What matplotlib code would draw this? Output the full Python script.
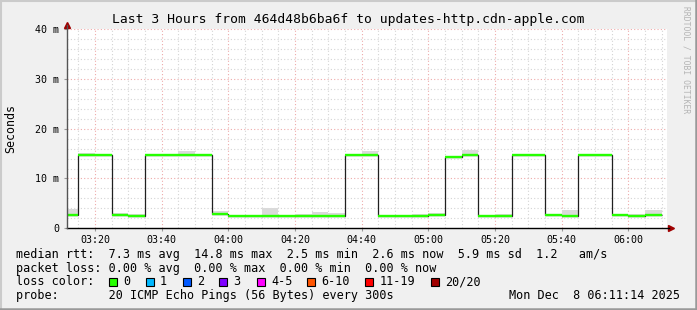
import matplotlib
matplotlib.use("Agg")
import matplotlib.pyplot as plt
from matplotlib.patches import Rectangle
import numpy as np

# --- data (times in minutes after midnight, rtt in ms) ---
step_start = 190          # first 5-minute step starts at 03:10
step_len = 5
median_ms = [2.6, 14.7, 14.7, 2.6, 2.5, 14.7, 14.7, 14.7, 14.7, 2.9,
             2.5, 2.5, 2.5, 2.5, 2.5, 2.5, 2.5, 14.7, 14.7, 2.5,
             2.5, 2.5, 2.6, 14.4, 14.8, 2.5, 2.5, 14.7, 14.7, 2.6,
             2.5, 14.7, 14.7, 2.6, 2.5, 2.6]
smoke_top_ms = [3.9, 15.1, 14.7, 3.1, 2.9, 14.7, 14.7, 15.5, 14.7, 3.5,
                2.7, 2.5, 4.0, 2.5, 2.9, 3.3, 3.1, 14.7, 15.5, 2.5,
                2.5, 2.9, 3.1, 14.5, 15.7, 2.5, 2.9, 14.7, 14.7, 2.6,
                3.7, 14.7, 14.7, 2.6, 2.9, 3.7]
x_ticks = ["03:20", "03:40", "04:00", "04:20", "04:40", "05:00", "05:20", "05:40", "06:00"]
y_ticks = ["0", "10 m", "20 m", "30 m", "40 m"]

title = "Last 3 Hours from 464d48b6ba6f to updates-http.cdn-apple.com"
rtt_line = "median rtt:  7.3 ms avg  14.8 ms max  2.5 ms min  2.6 ms now  5.9 ms sd  1.2   am/s"
loss_line = "packet loss: 0.00 % avg  0.00 % max  0.00 % min  0.00 % now"
loss_labels = ["0", "1", "2", "3", "4-5", "6-10", "11-19", "20/20"]
loss_colors = ["#26ff00", "#00b8ff", "#0059ff", "#7e00ff", "#ff00ff", "#ff5500", "#ff0000", "#a10000"]
probe_line = "probe:       20 ICMP Echo Pings (56 Bytes) every 300s"
stamp = "Mon Dec  8 06:11:14 2025"

W, H = 697, 310
MONO = "DejaVu Sans Mono"
LEG = 8.5


def P(x, y):
    return x / W, 1 - y / H


fig = plt.figure(figsize=(W / 100, H / 100), dpi=100, facecolor="#f0f0f0")
# 3d frame
fig.add_artist(plt.Line2D([0, 1], [1 - 1 / H, 1 - 1 / H], color="#cbcbcb", lw=1.5))
fig.add_artist(plt.Line2D([1 / W, 1 / W], [0, 1], color="#cbcbcb", lw=1.5))
fig.add_artist(plt.Line2D([0, 1], [1.2 / H, 1.2 / H], color="#999999", lw=1.8))
fig.add_artist(plt.Line2D([1 - 1.2 / W, 1 - 1.2 / W], [0, 1], color="#999999", lw=1.8))

x0, x1, y0, y1 = 66.7, 666.7, 29.0, 228.3
ax = fig.add_axes([x0 / W, 1 - y1 / H, (x1 - x0) / W, (y1 - y0) / H])
ax.set_facecolor("white")
t_left = 191.5
ax.set_xlim(t_left, t_left + 180)
ax.set_ylim(0, 40)
for s in ax.spines.values():
    s.set_visible(False)

# grid
minor_x = np.arange(195, 372, 5)
major_x = np.arange(200, 372, 20)
for t in minor_x:
    if t not in major_x:
        ax.axvline(t, color="#d4d4d4", lw=0.8, ls=(0, (1, 2)), zorder=0)
for t in major_x:
    ax.axvline(t, color="#eeaaaa", lw=0.8, ls=(0, (1, 2)), zorder=0)
for v in np.arange(2, 41, 2):
    if v % 10:
        ax.axhline(v, color="#d4d4d4", lw=0.8, ls=(0, (1, 2)), zorder=0)
for v in np.arange(10, 41, 10):
    ax.axhline(v, color="#eeaaaa", lw=0.8, ls=(0, (1, 2)), zorder=0)

edges = step_start + step_len * np.arange(len(median_ms) + 1)
med = np.array(median_ms)
top = np.array(smoke_top_ms)
ax.stairs(top, edges, baseline=med, fill=True, color="#dadada", zorder=1)
ax.stairs(med, edges, baseline=None, color="#202020", lw=0.9, zorder=2)
ax.hlines(med, edges[:-1], edges[1:], color=loss_colors[0], lw=1.7, zorder=3)

# ticks
ax.set_xticks(major_x)
ax.set_xticklabels(x_ticks)
ax.set_yticks(np.arange(0, 41, 10))
ax.set_yticklabels(y_ticks)
ax.tick_params(axis="both", length=2, width=0.8, color="#999999", labelsize=7.2,
               labelcolor="#000000")
ax.tick_params(axis="x", pad=3)
ax.tick_params(axis="y", pad=3.5)
for lab in ax.get_xticklabels() + ax.get_yticklabels():
    lab.set_family(MONO)

# axes lines and arrows
ax.plot([0, 1.0045], [0, 0], color="#000000", lw=1.0, transform=ax.transAxes, clip_on=False, zorder=4)
ax.plot([0, 0], [0, 1.02], color="#555555", lw=1.0, transform=ax.transAxes, clip_on=False, zorder=4)
ax.plot([0], [1.022], marker="^", ms=5, color="#a00000", transform=ax.transAxes, clip_on=False)
ax.plot([1.0075], [0], marker=">", ms=5, color="#a00000", transform=ax.transAxes, clip_on=False)

# texts
fig.text(*P(347.8, 19.5), title, family=MONO, size=9.4, ha="center", va="center")
fig.text(*P(10.5, 128.5), "Seconds", family=MONO, size=8.4, rotation=90, ha="center", va="center")
fig.text(*P(686, 60), "RRDTOOL / TOBI OETIKER", family=MONO, size=5.8, rotation=270,
         ha="center", va="center", color="#b4b4b4")

fig.text(*P(16, 258), rtt_line, family=MONO, size=LEG, va="baseline")
fig.text(*P(16, 271.7), loss_line, family=MONO, size=LEG, va="baseline")
fig.text(*P(16, 285.4), "loss color:", family=MONO, size=LEG, va="baseline")
box_x = [109, 145.7, 182.7, 219.3, 256.7, 307.3, 365.3, 430.7]
for lab, c, bx in zip(loss_labels, loss_colors, box_x):
    fig.add_artist(Rectangle(P(bx, 286.3), 8 / W, 8 / H, transform=fig.transFigure,
                             facecolor=c, edgecolor="black", lw=0.8))
    fig.text(*P(bx + 14.3, 285.4), lab, family=MONO, size=LEG, va="baseline")
fig.text(*P(16, 299), probe_line, family=MONO, size=LEG, va="baseline")
fig.text(*P(680, 299), stamp, family=MONO, size=LEG, va="baseline", ha="right")

fig.savefig("out.png", dpi=100, facecolor=fig.get_facecolor())
